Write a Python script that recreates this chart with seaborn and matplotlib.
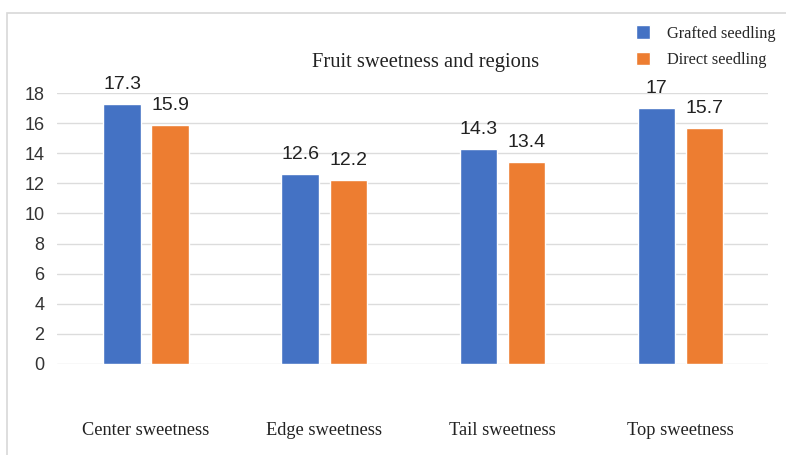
import seaborn as sns
import pandas as pd
import matplotlib.pyplot as plt
from matplotlib.patches import Rectangle

categories = ["Center sweetness", "Edge sweetness", "Tail sweetness", "Top sweetness"]
grafted = [17.3, 12.6, 14.3, 17.0]
direct = [15.9, 12.2, 13.4, 15.7]
series = ["Grafted seedling", "Direct seedling"]
yticks = [0, 2, 4, 6, 8, 10, 12, 14, 16, 18]

df = pd.DataFrame({
    "region": categories * 2,
    "sweetness": grafted + direct,
    "type": [series[0]] * 4 + [series[1]] * 4,
})

sns.set_style("white")
plt.rcParams["font.family"] = ["Liberation Sans", "DejaVu Sans"]

fig = plt.figure(figsize=(7.86, 4.55), dpi=100)
ax = fig.add_axes([0.0725, 0.2007, 0.9045, 0.5943])

sns.barplot(data=df, x="region", y="sweetness", hue="type",
            palette=["#4472C4", "#ED7D31"], width=0.54, gap=0.22,
            saturation=1, ax=ax)

for c in ax.containers:
    ax.bar_label(c, fmt="%g", padding=8, fontsize=14, color="#222222", clip_on=False)

ax.set_ylim(0, 18)
ax.set_xlim(-0.5, 3.49)
ax.set_yticks(yticks)
ax.yaxis.grid(True, color="#dcdcdc", linewidth=1)
ax.set_axisbelow(True)
sns.despine(ax=ax, left=True, bottom=True)
ax.set_xlabel("")
ax.set_ylabel("")
ax.tick_params(axis="y", length=0, pad=9, labelsize=13, labelcolor="#333333")
ax.tick_params(axis="x", length=0, pad=42)
for t in ax.get_xticklabels():
    t.set_fontfamily("Liberation Serif")
    t.set_fontsize(13.2)
    t.set_color("#222222")

fig.text(0.541, 0.862, "Fruit sweetness and regions", ha="center", va="center",
         fontsize=14.8, family="Liberation Serif", color="#222222")

ax.legend(loc="upper left", bbox_to_anchor=(0.790, 0.977), bbox_transform=fig.transFigure,
          frameon=False, prop={"family": "Liberation Serif", "size": 11.8},
          handlelength=0.85, handleheight=0.9, handletextpad=1.05, labelspacing=0.6)

# light screenshot frame
fig.patches.append(Rectangle((7 / 786, -0.1), 1.2, 1.1 - 13 / 455, transform=fig.transFigure,
                             fill=False, edgecolor="#d8d8d8", linewidth=1.2))

fig.savefig("out.png", dpi=100)
